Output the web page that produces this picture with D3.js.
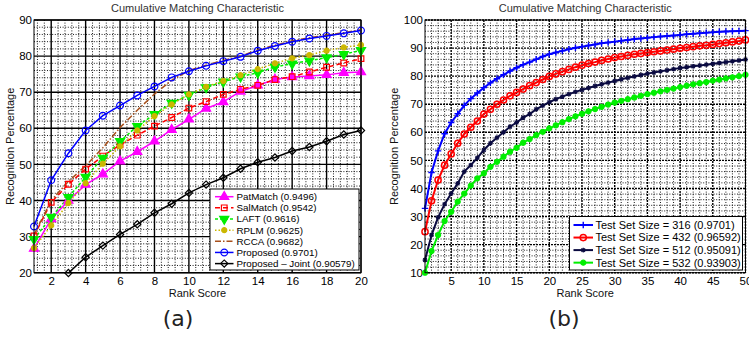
<!DOCTYPE html>
<html>
<head>
<meta charset="utf-8">
<script src="https://cdnjs.cloudflare.com/ajax/libs/d3/7.8.5/d3.min.js"></script>
<style>
body { margin: 0; background: #fff; }
text { font-family: "Liberation Sans", Arial, sans-serif; }
</style>
</head>
<body>
<div id="fig"></div>
<script>

// ---- panel (a) data ----
var ranksA = [1,2,3,4,5,6,7,8,9,10,11,12,13,14,15,16,17,18,19,20];
var xTicksA = [2,4,6,8,10,12,14,16,18,20];
var yTicksA = [20,30,40,50,60,70,80,90];

var patMatch = [26.7,34.9,40.0,44.4,47.3,50.9,53.5,56.4,59.6,62.5,65.5,67.3,70.2,71.9,73.5,74.2,74.5,74.8,75.4,75.6];
var salMatch = [30.2,39.5,44.5,48.7,52.3,55.4,58.1,60.6,63.0,65.6,67.4,69.4,70.8,71.9,73.5,74.3,75.6,76.9,78.1,79.3];
var laft     = [29.3,35.4,40.9,46.5,51.8,56.4,60.6,63.9,67.0,69.2,71.3,72.9,74.3,75.4,77.0,77.9,78.7,79.6,80.5,81.6];
var rplm     = [26.8,33.1,39.3,44.8,50.2,55.0,59.4,63.4,66.6,69.4,71.5,73.1,74.7,76.4,78.0,79.4,80.3,81.5,82.4,83.1];
var rcca     = [30.5,40.0,45.3,49.6,54.6,60.2,65.0,69.5,73.3,76.0,77.5,78.8,80.0,81.7,83.0,84.2,85.1,85.8,86.5,87.3];
var proposed = [32.8,45.6,53.1,59.4,63.5,66.3,69.1,71.6,74.1,75.8,77.3,78.6,79.8,81.5,82.8,84.0,84.9,85.6,86.3,87.1];
var joint    = [null,null,19.9,24.3,27.5,30.6,33.4,36.6,39.1,42.1,44.4,46.3,48.8,50.6,51.9,53.7,54.8,56.4,58.3,59.4];

// ---- panel (b) data ----
var ranksB = [1,2,3,4,5,6,7,8,9,10,11,12,13,14,15,16,17,18,19,20,21,22,23,24,25,
              26,27,28,29,30,31,32,33,34,35,36,37,38,39,40,41,42,43,44,45,46,47,48,49,50];
var xTicksB = [5,10,15,20,25,30,35,40,45,50];
var yTicksB = [10,20,30,40,50,60,70,80,90,100];

var size316 = [32.9,45.7,53.4,59.5,63.5,66.6,69.6,72.0,74.0,75.9,
               77.6,79.1,80.5,81.8,83.0,84.1,85.0,86.0,87.0,87.8,
               88.4,89.0,89.6,90.1,90.5,90.9,91.3,91.7,92.0,92.3,
               92.6,92.9,93.2,93.4,93.7,93.9,94.1,94.3,94.5,94.7,
               94.9,95.1,95.3,95.5,95.6,95.8,95.9,96.0,96.1,96.2];
var size432 = [24.6,35.6,43.0,48.3,52.3,56.1,59.4,61.8,64.0,66.5,
               68.2,70.0,71.5,73.0,74.2,75.4,76.6,77.7,78.8,79.9,
               80.8,81.6,82.4,83.2,83.9,84.5,85.0,85.6,86.1,86.6,
               87.0,87.4,87.8,88.1,88.4,88.7,89.0,89.3,89.6,89.9,
               90.2,90.5,90.8,91.0,91.3,91.6,91.9,92.2,92.5,92.9];
var size512 = [14.5,23.4,29.7,34.4,38.2,41.8,46.0,48.3,50.9,53.7,
               56.1,58.1,60.0,62.0,63.5,65.2,66.5,68.2,69.5,70.7,
               71.8,72.7,73.6,74.4,75.1,75.8,76.5,77.1,77.7,78.3,
               78.9,79.4,79.9,80.4,80.9,81.3,81.7,82.1,82.5,82.9,
               83.2,83.5,83.8,84.1,84.4,84.7,85.0,85.3,85.6,85.9];
var size532 = [10.0,17.7,23.4,28.4,31.7,35.3,38.2,41.0,43.6,45.4,
               47.7,49.5,51.3,53.1,54.5,56.3,57.6,59.0,60.2,61.4,
               62.5,63.6,64.7,65.7,66.6,67.5,68.3,69.1,69.9,70.6,
               71.2,71.8,72.4,73.0,73.6,74.1,74.6,75.1,75.6,76.1,
               76.6,77.1,77.5,77.9,78.4,78.8,79.2,79.6,80.0,80.5];


var svg = d3.select("#fig").append("svg")
    .attr("width", 749)
    .attr("height", 340);

// marker shapes (drawn around 0,0)
var shapes = {
    triUp:   d3.symbol(d3.symbolTriangle, 36)(),
    triDown: d3.symbol(d3.symbolTriangle, 36)(),
    square:  d3.symbol(d3.symbolSquare, 32)(),
    diamond: d3.symbol(d3.symbolSquare, 26)(),
    circle:  d3.symbol(d3.symbolCircle, 36)(),
    dot:     d3.symbol(d3.symbolCircle, 20)(),
    ring:    d3.symbol(d3.symbolCircle, 30)(),
    plus:    "M-3.2,0H3.2M0,-3.2V3.2",
    star:    "M-2.4,0H2.4M0,-2.4V2.4M-1.8,-1.8L1.8,1.8M-1.8,1.8L1.8,-1.8"
};
var rotations = { triDown: 180, diamond: 45 };

function putMarker(sel, s) {
    sel.attr("d", shapes[s.marker])
       .attr("fill", s.fill)
       .attr("stroke", s.color)
       .attr("stroke-width", s.mwidth || 1.2);
}

function panel(cfg) {
    var x = d3.scaleLinear().domain(cfg.xDomain).range([cfg.left, cfg.right]);
    var y = d3.scaleLinear().domain(cfg.yDomain).range([cfg.bottom, cfg.top]);
    var g = svg.append("g");

    // minor grid
    g.append("g").selectAll("line").data(cfg.xMinor).enter().append("line")
        .attr("x1", function(d) { return x(d); }).attr("x2", function(d) { return x(d); })
        .attr("y1", cfg.top).attr("y2", cfg.bottom)
        .attr("stroke", "#000").attr("stroke-width", 0.9).attr("stroke-dasharray", "1,1.6");
    g.append("g").selectAll("line").data(cfg.yMinor).enter().append("line")
        .attr("y1", function(d) { return y(d); }).attr("y2", function(d) { return y(d); })
        .attr("x1", cfg.left).attr("x2", cfg.right)
        .attr("stroke", "#000").attr("stroke-width", 0.9).attr("stroke-dasharray", "1,1.6");

    // major grid
    g.append("g").selectAll("line").data(cfg.xTicks).enter().append("line")
        .attr("x1", function(d) { return x(d); }).attr("x2", function(d) { return x(d); })
        .attr("y1", cfg.top).attr("y2", cfg.bottom)
        .attr("stroke", "#000").attr("stroke-width", 1.4).attr("stroke-dasharray", cfg.majorDash);
    g.append("g").selectAll("line").data(cfg.yTicks).enter().append("line")
        .attr("y1", function(d) { return y(d); }).attr("y2", function(d) { return y(d); })
        .attr("x1", cfg.left).attr("x2", cfg.right)
        .attr("stroke", "#000").attr("stroke-width", 1.4).attr("stroke-dasharray", cfg.majorDash);

    // tick labels
    var ax = g.append("g")
        .attr("transform", "translate(0," + cfg.bottom + ")")
        .call(d3.axisBottom(x).tickValues(cfg.xTicks).tickSize(0).tickPadding(4.5));
    var ay = g.append("g")
        .attr("transform", "translate(" + cfg.left + ",0)")
        .call(d3.axisLeft(y).tickValues(cfg.yTicks).tickSize(0).tickPadding(2));
    [ax, ay].forEach(function(a) {
        a.select(".domain").remove();
        a.attr("font-family", "Liberation Sans, Arial, sans-serif").attr("font-size", 11.5);
        a.selectAll("text").attr("fill", "#000");
    });

    // curves
    cfg.series.forEach(function(s) {
        var line = d3.line()
            .defined(function(d) { return d != null; })
            .x(function(d, i) { return x(cfg.ranks[i]); })
            .y(function(d) { return y(d); });
        g.append("path")
            .datum(s.values)
            .attr("fill", "none")
            .attr("stroke", s.color)
            .attr("stroke-width", s.width)
            .attr("stroke-dasharray", s.dash)
            .attr("d", line);
    });
    cfg.series.forEach(function(s) {
        if (!s.marker) return;
        var pts = s.values.map(function(v, i) { return { r: cfg.ranks[i], v: v }; })
            .filter(function(p) { return p.v != null; });
        g.append("g").selectAll("path").data(pts).enter().append("path")
            .attr("transform", function(p) {
                return "translate(" + x(p.r) + "," + y(p.v) + ") rotate(" + (rotations[s.marker] || 0) + ")";
            })
            .call(putMarker, s);
    });

    // box
    g.append("rect")
        .attr("x", cfg.left).attr("y", cfg.top)
        .attr("width", cfg.right - cfg.left).attr("height", cfg.bottom - cfg.top)
        .attr("fill", "none").attr("stroke", "#000").attr("stroke-width", 1);

    // titles
    var cx = (cfg.left + cfg.right) / 2;
    g.append("text")
        .attr("x", cx).attr("y", 11.5)
        .attr("text-anchor", "middle").attr("font-size", 11).attr("fill", "#333")
        .text("Cumulative Matching Characteristic");
    g.append("text")
        .attr("x", cx).attr("y", 296.5)
        .attr("text-anchor", "middle").attr("font-size", 11).attr("fill", "#111")
        .text("Rank Score");
    g.append("text")
        .attr("transform", "translate(" + cfg.ylabX + "," + ((cfg.top + cfg.bottom) / 2) + ")rotate(-90)")
        .attr("text-anchor", "middle").attr("font-size", 11).attr("fill", "#111")
        .text("Recognition Percentage");
    g.append("text")
        .attr("x", cfg.capX).attr("y", 326)
        .attr("text-anchor", "middle")
        .style("font-family", "DejaVu Sans, sans-serif")
        .attr("font-size", 22).attr("fill", "#222")
        .text(cfg.caption);

    // legend
    var L = cfg.legend;
    var lg = g.append("g");
    lg.append("rect")
        .attr("x", L.x0).attr("y", L.y0)
        .attr("width", L.x1 - L.x0).attr("height", L.y1 - L.y0)
        .attr("fill", "#fff").attr("stroke", "#000").attr("stroke-width", 1);
    cfg.series.forEach(function(s, i) {
        var yy = L.first + i * L.step;
        lg.append("line")
            .attr("x1", L.lineX0).attr("x2", L.lineX1).attr("y1", yy).attr("y2", yy)
            .attr("stroke", s.color).attr("stroke-width", s.width)
            .attr("stroke-dasharray", s.dash);
        if (s.marker) {
            lg.append("path")
                .attr("transform", "translate(" + ((L.lineX0 + L.lineX1) / 2) + "," + yy + ") rotate(" + (rotations[s.marker] || 0) + ")")
                .call(putMarker, s);
        }
        lg.append("text")
            .attr("x", L.textX).attr("y", yy).attr("dy", "0.35em")
            .attr("font-size", L.font).attr("fill", "#000")
            .text(s.name);
    });
}

function minorTicks(lo, hi, step, major) {
    return d3.range(lo, hi + step / 2, step).filter(function(d) {
        var k = d / major;
        return Math.abs(k - Math.round(k)) > 0.01;
    });
}

panel({
    ranks: ranksA,
    xDomain: [1, 20], yDomain: [20, 90],
    left: 34, right: 361, top: 20, bottom: 272.7,
    xTicks: xTicksA, yTicks: yTicksA,
    xMinor: minorTicks(1.2, 19.6, 0.4, 2),
    yMinor: minorTicks(22, 88, 2, 10),
    majorDash: null,
    ylabX: 13.5, capX: 178, caption: "(a)",
    series: [
        { name: "PatMatch (0.9496)", values: patMatch, color: "#ff00ff", width: 1.5, dash: null, marker: "triUp", fill: "#ff00ff" },
        { name: "SalMatch (0.9542)", values: salMatch, color: "#ff0000", width: 1.5, dash: "5,3", marker: "square", fill: "none" },
        { name: "LAFT (0.9616)", values: laft, color: "#00ee00", width: 1.5, dash: "3,2", marker: "triDown", fill: "#00ee00" },
        { name: "RPLM (0.9625)", values: rplm, color: "#cbb700", width: 1.5, dash: "1.5,2", marker: "dot", fill: "#cbb700" },
        { name: "RCCA (0.9682)", values: rcca, color: "#a8501c", width: 1.5, dash: "6,2,1.5,2", marker: null, fill: "none" },
        { name: "Proposed (0.9701)", values: proposed, color: "#0000ff", width: 1.5, dash: null, marker: "circle", fill: "none" },
        { name: "Proposed \u2013 Joint (0.90579)", values: joint, color: "#000000", width: 1.5, dash: null, marker: "diamond", fill: "none" }
    ],
    legend: { x0: 210, x1: 359, y0: 189, y1: 270, first: 196.7, step: 11.15,
              lineX0: 215, lineX1: 233.5, textX: 236.5, font: 9.8 }
});

panel({
    ranks: ranksB,
    xDomain: [1, 50], yDomain: [10, 100],
    left: 425, right: 745.5, top: 20, bottom: 272.7,
    xTicks: xTicksB, yTicks: yTicksB,
    xMinor: minorTicks(2, 49, 1, 5),
    yMinor: minorTicks(12, 98, 2, 10),
    majorDash: "2,1",
    ylabX: 398, capX: 564, caption: "(b)",
    series: [
        { name: "Test Set Size = 316 (0.9701)", values: size316, color: "#0000ff", width: 2, dash: null, marker: "plus", fill: "none", mwidth: 1.4 },
        { name: "Test Set Size = 432 (0.96592)", values: size432, color: "#ff0000", width: 2, dash: null, marker: "ring", fill: "none", mwidth: 1.5 },
        { name: "Test Set Size = 512 (0.95091)", values: size512, color: "#0a0a40", width: 2, dash: null, marker: "star", fill: "none", mwidth: 1.2 },
        { name: "Test Set Size = 532 (0.93903)", values: size532, color: "#00ee00", width: 2, dash: null, marker: "dot", fill: "#00ee00" }
    ],
    legend: { x0: 569.5, x1: 742.5, y0: 216.5, y1: 270, first: 225, step: 12.55,
              lineX0: 573.5, lineX1: 593, textX: 595.5, font: 11 }
});

</script>
</body>
</html>
